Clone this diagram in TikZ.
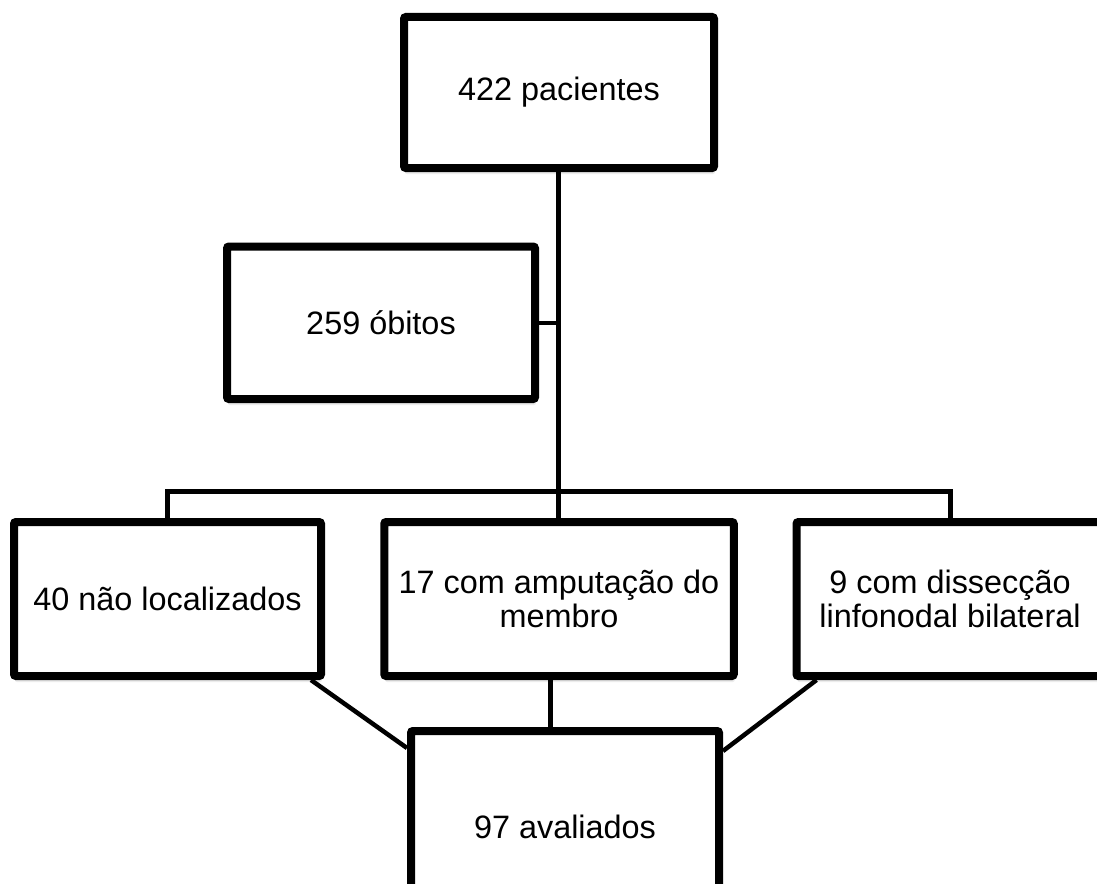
\documentclass[tikz,border=0pt]{standalone}
\usepackage{fontspec}
\setmainfont{Liberation Sans}
\usetikzlibrary{shadows}
\begin{document}
\begin{tikzpicture}[x=1pt,y=-1pt,
  box/.style={draw=black, line width=8pt, fill=white, rounded corners=2pt,
    align=center, inner sep=0pt, font=\fontsize{32.4}{33.5}\selectfont,
    drop shadow={shadow xshift=1pt, shadow yshift=-6pt, opacity=0.15}},
  link/.style={draw=black, line width=5pt},
  thin link/.style={draw=black, line width=4.5pt}]
\useasboundingbox (0,0) rectangle (1097,883);
\clip (0,0) rectangle (1097,883);
\fill[white] (0,0) rectangle (1097,883);

\coordinate (j) at (558,491);

% boxes
\node[box, minimum width=310pt, minimum height=151pt] (top) at (559,92.5) {422 pacientes};
\node[box, minimum width=308pt, minimum height=152.5pt] (ob) at (381,322.75) {259 óbitos};
\node[box, minimum width=307pt, minimum height=154pt] (nl) at (167.5,599) {40 não localizados};
\node[box, minimum width=349.5pt, minimum height=154pt] (amp) at (559,599) {17 com amputação do\\membro};
\node[box, minimum width=307pt, minimum height=154pt] (dis) at (950,599) {9 com dissecção\\linfonodal bilateral};
\node[box, minimum width=308pt, minimum height=192pt] (av) at (565,827) {97 avaliados};

% connectors
\draw[link] ([xshift=-1pt]top.south) -- (j);
\draw[thin link] (ob.east) -- (ob.east -| j);
\draw[link] (nl.north) -- (nl.north |- j) -- (dis.north |- j) -- (dis.north);
\draw[link] (j) -- ([xshift=-1pt]amp.north);
\draw[link] ([xshift=-9pt]amp.south) -- ([xshift=-9pt]amp.south |- av.north);
\draw[thin link] ([xshift=-14pt]nl.south east) -- ([yshift=-21pt]av.north west);
\draw[thin link] ([xshift=24pt]dis.south west) -- ([yshift=-24pt]av.north east);
\end{tikzpicture}
\end{document}
